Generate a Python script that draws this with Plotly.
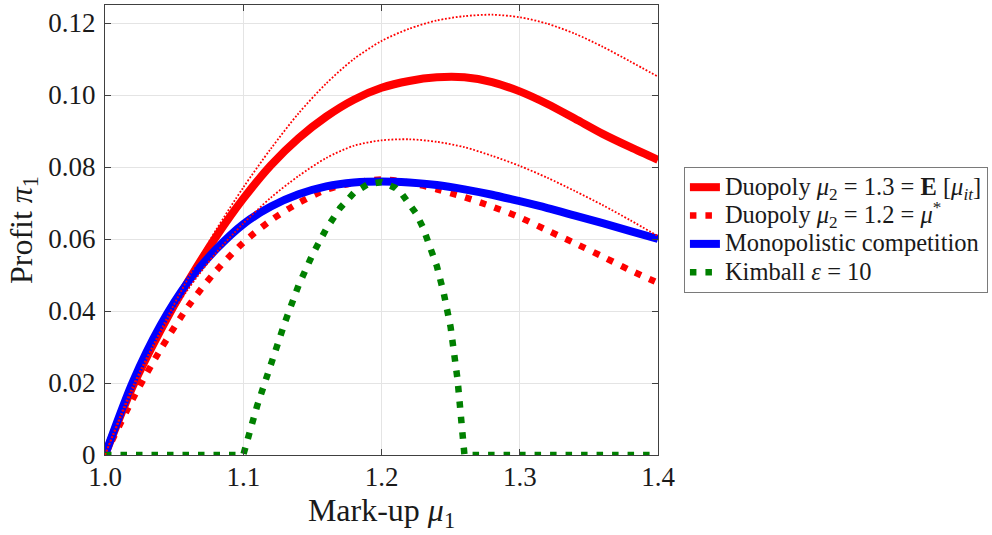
import plotly.graph_objects as go

# Own mark-up grid
mu1 = [1.00, 1.02, 1.04, 1.06, 1.08, 1.10, 1.12, 1.14, 1.16, 1.18, 1.20,
       1.22, 1.24, 1.26, 1.28, 1.30, 1.32, 1.34, 1.36, 1.38, 1.40]

# Duopoly, rival mark-up 1.3 (expected mark-up)
duopoly_13 = [0.0, 0.0190, 0.0345, 0.0482, 0.0604, 0.0712, 0.0805, 0.0880, 0.0940, 0.0987, 0.1020,
              0.1039, 0.1049, 0.1049, 0.1036, 0.1010, 0.0975, 0.0934, 0.0892, 0.0855, 0.0820]
# Band around the duopoly 1.3 profit curve
duopoly_13_upper = [0.0, 0.0182, 0.0344, 0.0490, 0.0623, 0.0743, 0.0851, 0.0949, 0.1032, 0.1100, 0.1150,
                    0.1184, 0.1207, 0.1219, 0.1223, 0.1216, 0.1198, 0.1170, 0.1134, 0.1093, 0.1051]
duopoly_13_lower = [0.0, 0.0190, 0.0340, 0.0460, 0.0560, 0.0643, 0.0715, 0.0775, 0.0825, 0.0859, 0.0874,
                    0.0877, 0.0870, 0.0855, 0.0831, 0.0803, 0.0770, 0.0733, 0.0694, 0.0652, 0.0608]
# Duopoly, rival mark-up 1.2 (optimal mark-up)
duopoly_12 = [0.0, 0.0155, 0.0292, 0.0412, 0.0510, 0.0590, 0.0652, 0.0700, 0.0737, 0.0756, 0.0765,
              0.0757, 0.0738, 0.0716, 0.0690, 0.0660, 0.0624, 0.0588, 0.0551, 0.0513, 0.0478]
# Monopolistic competition
monopolistic = [0.0, 0.0202, 0.0359, 0.0480, 0.0570, 0.0641, 0.0690, 0.0724, 0.0746, 0.0757, 0.0760,
                0.0757, 0.0750, 0.0738, 0.0723, 0.0705, 0.0686, 0.0665, 0.0644, 0.0622, 0.0600]

# Kimball demand (epsilon = 10): zero outside the choke range
mu1_kimball = [1.00, 1.02, 1.04, 1.06, 1.08, 1.10, 1.11, 1.12, 1.13, 1.14, 1.15, 1.16, 1.17,
               1.18, 1.19, 1.20, 1.21, 1.215, 1.22, 1.225, 1.23, 1.235, 1.24, 1.245, 1.25,
               1.255, 1.26, 1.28, 1.30, 1.32, 1.34, 1.36, 1.38, 1.40]
kimball = [0.0, 0.0, 0.0, 0.0, 0.0, 0.0, 0.0136, 0.0259, 0.0367, 0.0471, 0.0556, 0.0628, 0.0686,
           0.0728, 0.0752, 0.0758, 0.0742, 0.0724, 0.0700, 0.0671, 0.0632, 0.0583, 0.0525, 0.0450, 0.0355,
           0.0210, 0.0, 0.0, 0.0, 0.0, 0.0, 0.0, 0.0, 0.0]

x_ticks = [1.0, 1.1, 1.2, 1.3, 1.4]
x_ticktext = ["1.0", "1.1", "1.2", "1.3", "1.4"]
y_ticks = [0, 0.02, 0.04, 0.06, 0.08, 0.10, 0.12]
y_ticktext = ["0", "0.02", "0.04", "0.06", "0.08", "0.10", "0.12"]

names = [
    "Duopoly <i>μ</i><sub>2</sub> = 1.3 = <b>E</b> [<i>μ</i><sub><i>it</i></sub>]",
    "Duopoly <i>μ</i><sub>2</sub> = 1.2 = <i>μ</i><sup>*</sup>",
    "Monopolistic competition",
    "Kimball <i>ε</i> = 10",
]

FONT = "Liberation Serif"
TXT = "#1a1a1a"


def big(s):
    # legend rows keep the spacing of the base legend font, text drawn larger
    return '<span style="font-size:24.5px">' + s + "</span>"


fig = go.Figure()

fig.add_trace(go.Scatter(
    x=mu1, y=duopoly_13, mode="lines", name=big(names[0]),
    line=dict(color="#ff0000", width=8, shape="spline", smoothing=0.8),
))
fig.add_trace(go.Scatter(
    x=mu1, y=duopoly_12, mode="lines", name=big(names[1]),
    line=dict(color="#ff0000", width=6.5, dash="6.5px,9px", shape="spline", smoothing=0.8),
))
fig.add_trace(go.Scatter(
    x=mu1, y=monopolistic, mode="lines", name=big(names[2]),
    line=dict(color="#0000ff", width=8, shape="spline", smoothing=0.8),
))
fig.add_trace(go.Scatter(
    x=mu1_kimball, y=kimball, mode="lines", name=big(names[3]),
    line=dict(color="#008000", width=6.5, dash="6.5px,9px"),
))
for band in (duopoly_13_upper, duopoly_13_lower):
    fig.add_trace(go.Scatter(
        x=mu1, y=band, mode="lines", showlegend=False, hoverinfo="skip",
        line=dict(color="#ff0000", width=1.8, dash="1.8px,1.8px", shape="spline", smoothing=0.8),
    ))

axis_common = dict(
    showline=True, linecolor="#404040", linewidth=1, mirror="allticks",
    ticks="inside", ticklen=6, tickwidth=1, tickcolor="#404040",
    showgrid=True, gridcolor="#e4e4e4", gridwidth=1, zeroline=False,
    tickfont=dict(family=FONT, size=27, color=TXT),
)

fig.update_layout(
    width=992, height=535,
    margin=dict(l=105, r=333, t=5, b=80),
    paper_bgcolor="white", plot_bgcolor="white",
    font=dict(family=FONT, color=TXT),
    xaxis=dict(
        range=[1.0, 1.4], tickvals=x_ticks, ticktext=x_ticktext,
        title=dict(text="Mark-up <i>μ</i><sub>1</sub>", font=dict(family=FONT, size=32, color=TXT), standoff=4),
        ticklabelstandoff=-2,
        **axis_common,
    ),
    yaxis=dict(
        range=[0, 0.125], tickvals=y_ticks, ticktext=y_ticktext,
        title=dict(text="Profit <i>π</i><sub>1</sub>", font=dict(family=FONT, size=32, color=TXT), standoff=6),
        ticklabelstandoff=3,
        **axis_common,
    ),
    legend=dict(
        x=1.045, xanchor="left", y=0.5, yanchor="middle",
        bgcolor="white", bordercolor="#7a7a7a", borderwidth=1,
        font=dict(family=FONT, size=19.5, color=TXT),
        traceorder="normal", itemwidth=30,
    ),
    showlegend=True,
)

fig.write_html("out.html")
